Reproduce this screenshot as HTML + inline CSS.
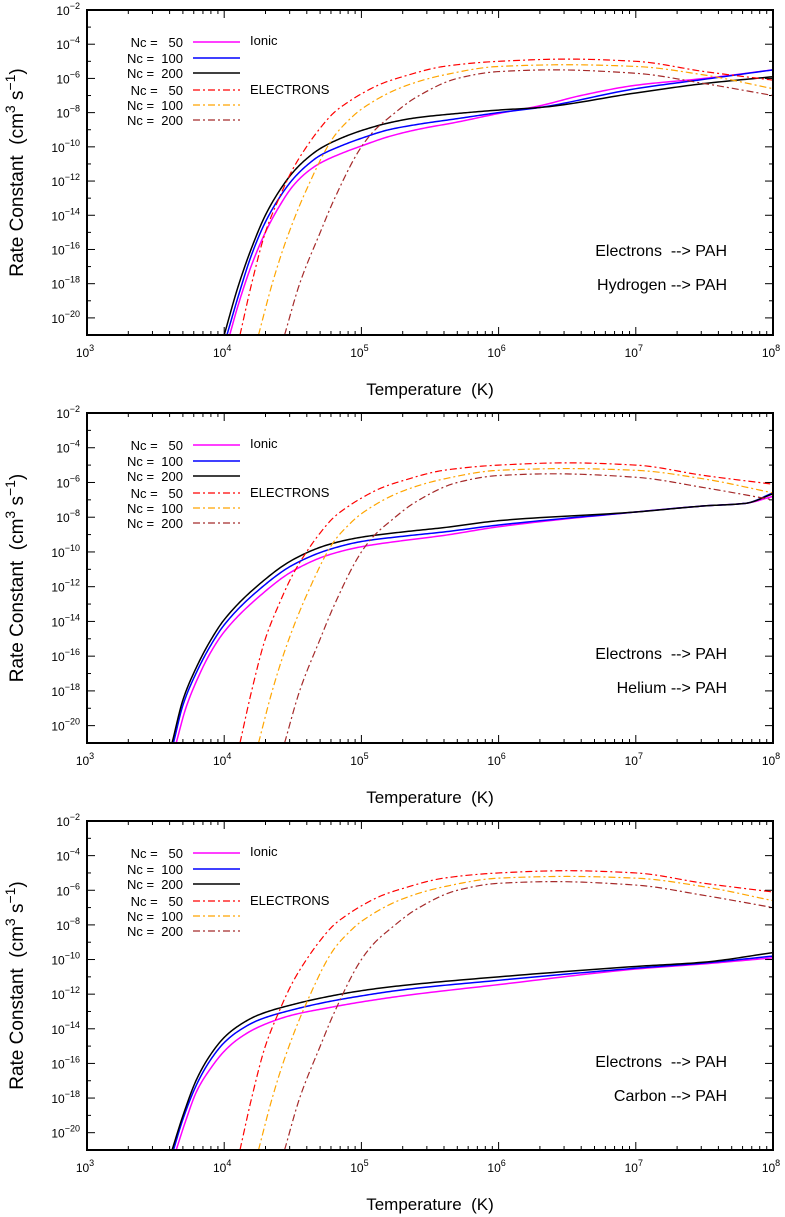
<!DOCTYPE html>
<html><head><meta charset="utf-8">
<style>
html,body{margin:0;padding:0;background:#fff;}
svg{display:block;font-family:"Liberation Sans",sans-serif;}
svg text{white-space:pre;}
</style></head>
<body>
<svg id="fig" width="785" height="1217" viewBox="0 0 785 1217" xmlns="http://www.w3.org/2000/svg"></svg>
<script>
// ---- data (log10 T , log10 k) ----
const panelTitles = ["Hydrogen --> PAH", "Helium --> PAH", "Carbon --> PAH"];
const xTicks = [3,4,5,6,7,8];
const yTicks = [-2,-4,-6,-8,-10,-12,-14,-16,-18,-20];
const legendLabels = ["Nc =   50","Nc =  100","Nc =  200","Nc =   50","Nc =  100","Nc =  200"];

// electrons (same in all panels)
const elec50T  = [4.115,4.2,4.3,4.4,4.5,4.6,4.7,4.8,4.9,5.0,5.15,5.3,5.6,6.0,6.5,7.0,7.5,8.0];
const elec50K  = [-21,-18,-15,-13,-11.3,-10.0,-8.9,-8.0,-7.4,-6.9,-6.3,-5.9,-5.3,-5.0,-4.87,-5.0,-5.6,-6.1];
const elec100T = [4.25,4.35,4.45,4.6,4.8,4.9,5.0,5.3,5.6,6.0,6.5,7.0,7.5,8.0];
const elec100K = [-21,-18,-15.5,-12.5,-9.4,-8.5,-7.8,-6.5,-5.8,-5.3,-5.2,-5.3,-5.8,-6.6];
const elec200T = [4.44,4.55,4.7,4.8,5.0,5.1,5.2,5.4,5.7,6.0,6.4,7.0,7.5,8.0];
const elec200K = [-21,-18,-15,-13.1,-10.0,-9.0,-8.3,-7.1,-6.0,-5.6,-5.5,-5.7,-6.3,-7.0];

// hydrogen ionic
const h50T  = [4.04,4.1,4.2,4.3,4.4,4.5,4.6,4.7,4.85,5.0,5.2,5.4,5.7,6.0,6.3,6.6,7.0,7.5,8.0];
const h50K  = [-21,-19.3,-16.9,-15.0,-13.5,-12.3,-11.5,-10.95,-10.4,-9.95,-9.4,-9.0,-8.55,-8.05,-7.6,-7.0,-6.4,-6.0,-5.5];
const h100T = [4.02,4.1,4.2,4.3,4.4,4.5,4.6,4.7,4.85,5.0,5.2,5.4,5.7,6.0,6.3,7.0,7.5,8.0];
const h100K = [-21,-18.8,-16.3,-14.4,-13.0,-11.9,-11.1,-10.5,-9.95,-9.5,-9.0,-8.7,-8.35,-8.0,-7.7,-6.6,-6.05,-5.5];
const h200T = [4.0,4.1,4.2,4.3,4.4,4.5,4.6,4.7,4.85,5.0,5.2,5.4,5.7,6.0,6.3,7.0,7.5,8.0];
const h200K = [-21,-18.2,-15.9,-14.0,-12.6,-11.5,-10.7,-10.1,-9.5,-9.05,-8.6,-8.3,-8.05,-7.85,-7.7,-6.85,-6.3,-5.9];

// helium ionic
const he50T  = [3.65,3.72,3.8,3.9,4.0,4.25,4.5,4.75,5.0,5.3,5.6,6.0,7.0,7.5,7.8,8.0];
const he50K  = [-21,-19,-17.4,-15.8,-14.6,-12.6,-11.1,-10.2,-9.7,-9.35,-9.05,-8.55,-7.7,-7.35,-7.2,-6.8];
const he100T = [3.63,3.7,3.8,3.9,4.0,4.25,4.5,4.75,5.0,5.3,5.6,6.0,7.0,7.5,7.8,8.0];
const he100K = [-21,-18.8,-16.9,-15.4,-14.2,-12.2,-10.75,-9.9,-9.4,-9.1,-8.85,-8.45,-7.7,-7.35,-7.2,-6.6];
const he200T = [3.62,3.7,3.8,3.9,4.0,4.25,4.5,4.75,5.0,5.3,5.6,6.0,7.0,7.5,7.8,8.0];
const he200K = [-21,-18.5,-16.6,-15.1,-13.9,-11.9,-10.45,-9.6,-9.15,-8.85,-8.6,-8.2,-7.7,-7.35,-7.2,-6.65];

// carbon ionic
const c50T  = [3.65,3.72,3.8,3.9,4.0,4.1,4.25,4.5,4.75,5.0,5.3,6.0,7.0,7.5,8.0];
const c50K  = [-21,-19.3,-17.6,-16.3,-15.3,-14.6,-13.9,-13.2,-12.8,-12.45,-12.1,-11.45,-10.55,-10.25,-9.9];
const c100T = [3.63,3.7,3.8,3.9,4.0,4.1,4.25,4.5,4.75,5.0,5.3,6.0,7.0,7.5,8.0];
const c100K = [-21,-19.2,-17.2,-15.8,-14.8,-14.15,-13.5,-12.9,-12.45,-12.1,-11.75,-11.2,-10.5,-10.2,-9.8];
const c200T = [3.62,3.7,3.8,3.9,4.0,4.1,4.25,4.5,4.75,5.0,5.3,6.0,7.0,7.5,8.0];
const c200K = [-21,-19.0,-16.9,-15.5,-14.5,-13.85,-13.2,-12.6,-12.15,-11.8,-11.5,-11.0,-10.4,-10.15,-9.6];

const ionicSets = [
  [[h50T,h50K],[h100T,h100K],[h200T,h200K]],
  [[he50T,he50K],[he100T,he100K],[he200T,he200K]],
  [[c50T,c50K],[c100T,c100K],[c200T,c200K]]
];
const elecSet = [[elec50T,elec50K],[elec100T,elec100K],[elec200T,elec200K]];

// ---- drawing ----
const NS="http://www.w3.org/2000/svg";
const svg=document.getElementById('fig');
const panels=[{top:10,bottom:335},{top:413,bottom:743},{top:821,bottom:1150}];
const L=87,R=773,XMIN=3,XMAX=8,YMIN=-21,YMAX=-2;
const ionicColors=["#ff00ff","#0000ff","#000000"];
const elecColors=["#ff0000","#ffa500","#a52a2a"];
const DASH="7,3,2,3";

function mk(tag,attrs,parent){const e=document.createElementNS(NS,tag);for(const k in attrs)e.setAttribute(k,attrs[k]);(parent||svg).appendChild(e);return e;}
function sx(v){return L+(v-XMIN)/(XMAX-XMIN)*(R-L);}
function monoPath(xs,ys,sy){
  const n=xs.length,d=[],m=new Array(n);
  for(let i=0;i<n-1;i++)d.push((ys[i+1]-ys[i])/(xs[i+1]-xs[i]));
  m[0]=d[0];m[n-1]=d[n-2];
  for(let i=1;i<n-1;i++){
    if(d[i-1]*d[i]<=0)m[i]=0;
    else{const h0=xs[i]-xs[i-1],h1=xs[i+1]-xs[i];const w1=2*h1+h0,w2=h1+2*h0;m[i]=(w1+w2)/(w1/d[i-1]+w2/d[i]);}
  }
  let path="";
  for(let i=0;i<n-1;i++){
    const h=xs[i+1]-xs[i],N=20;
    for(let k=(i===0?0:1);k<=N;k++){
      const t=k/N,t2=t*t,t3=t2*t;
      const y=(2*t3-3*t2+1)*ys[i]+(t3-2*t2+t)*h*m[i]+(-2*t3+3*t2)*ys[i+1]+(t3-t2)*h*m[i+1];
      const x=xs[i]+t*h;
      path+=(path?" L":"M")+sx(x).toFixed(2)+","+sy(y).toFixed(2);
    }
  }
  return path;
}
function sup(parent,x,y,base,exp,anchor){
  const t=mk('text',{x:x,y:y,'font-size':12,'text-anchor':anchor,fill:'#000'},parent);
  t.appendChild(document.createTextNode(base));
  const s=document.createElementNS(NS,'tspan');s.setAttribute('dy',-6);s.setAttribute('font-size',9);s.textContent=exp;t.appendChild(s);
  return t;
}

panels.forEach((P,pi)=>{
  const T=P.top,B=P.bottom;
  const sy=v=>T+(YMAX-v)/(YMAX-YMIN)*(B-T);
  const g=mk('g',{});
  
  
  const clipId='clip'+pi;
  const cp=mk('clipPath',{id:clipId},g);mk('rect',{x:L,y:T,width:R-L,height:B-T},cp);

  const tk=mk('g',{stroke:'#000','stroke-width':1},g);
  
  
  for(let d=XMIN;d<=XMAX;d++){
    for(let m=1;m<=9;m++){
      const v=d+Math.log10(m); if(v>XMAX)break;
      const len=m===1?8:4, x=sx(v);
      mk('line',{x1:x,y1:B,x2:x,y2:B-len},tk);
      mk('line',{x1:x,y1:T,x2:x,y2:T+len},tk);
    }
  }
  for(let v=YMIN;v<=YMAX;v++){
    const len=(v%2===0)?8:4, y=sy(v);
    mk('line',{x1:L,y1:y,x2:L+len,y2:y},tk);
    mk('line',{x1:R,y1:y,x2:R-len,y2:y},tk);
  }
  xTicks.forEach(v=>{const t=sup(g,sx(v)-2,B+22,'10',String(v),'middle');
    });
  yTicks.forEach(v=>{const t=sup(g,80,sy(v)+5,'10','\u2212'+Math.abs(v),'end');
    });

  const cg=mk('g',{'clip-path':'url(#'+clipId+')',fill:'none'},g);
  ionicSets[pi].forEach((s,i)=>{
    const p=mk('path',{d:monoPath(s[0],s[1],sy),stroke:ionicColors[i],'stroke-width':1.5},cg);
    
    
  });
  elecSet.forEach((s,i)=>{
    const p=mk('path',{d:monoPath(s[0],s[1],sy),stroke:elecColors[i],'stroke-width':1.2,'stroke-dasharray':DASH},cg);
    
    
  });

  const fr=mk('rect',{x:L,y:T,width:R-L,height:B-T,fill:'none',stroke:'#000','stroke-width':2},g);
  
  

  const lg=mk('g',{},g);
  
  
  const ly=[32,48,63,80,95,110];
  legendLabels.forEach((lab,i)=>{
    const y=T+ly[i];
    const t=mk('text',{x:183,y:y+5,'font-size':13,'text-anchor':'end'},lg);
    t.textContent=lab;
    
    
    const ln=mk('line',{x1:193,y1:y,x2:240,y2:y,stroke:i<3?ionicColors[i]:elecColors[i-3],'stroke-width':i<3?1.5:1.2},lg);
    if(i>=3)ln.setAttribute('stroke-dasharray',DASH);
    
    
  });
  const t1=mk('text',{x:250,y:T+35,'font-size':13},lg);t1.textContent='Ionic';
  
  const t2=mk('text',{x:250,y:T+84,'font-size':13},lg);t2.textContent='ELECTRONS';
  

  const a1=mk('text',{x:727,y:T+246,'font-size':16,'text-anchor':'end'},g);
  a1.textContent='Electrons  --> PAH';
  
  const a2=mk('text',{x:727,y:T+280,'font-size':16,'text-anchor':'end'},g);
  a2.textContent=panelTitles[pi];
  

  const xt=mk('text',{x:430,y:B+60,'font-size':17,'text-anchor':'middle'},g);
  xt.textContent='Temperature  (K)';
  
  const cy=(T+B)/2;
  const yt=mk('text',{x:0,y:0,'font-size':19,'text-anchor':'middle',transform:'translate(23,'+cy+') rotate(-90)'},g);
  yt.appendChild(document.createTextNode('Rate Constant  (cm'));
  const s1=document.createElementNS(NS,'tspan');s1.setAttribute('dy',-8);s1.setAttribute('font-size',14);s1.textContent='3';yt.appendChild(s1);
  const s2=document.createElementNS(NS,'tspan');s2.setAttribute('dy',8);s2.textContent=' s';yt.appendChild(s2);
  const s3=document.createElementNS(NS,'tspan');s3.setAttribute('dy',-8);s3.setAttribute('font-size',14);s3.textContent='\u22121';yt.appendChild(s3);
  const s4=document.createElementNS(NS,'tspan');s4.setAttribute('dy',8);s4.textContent=')';yt.appendChild(s4);
  
});
</script>
</body></html>
